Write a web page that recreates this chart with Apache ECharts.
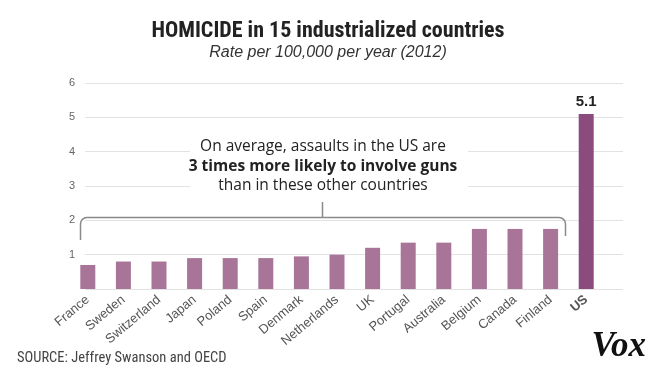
<!DOCTYPE html>
<html>
<head>
<meta charset="utf-8">
<script src="https://cdn.jsdelivr.net/npm/echarts@6/dist/echarts.min.js"></script>
<style>
html,body{margin:0;padding:0;background:#fff;}
#chart{width:656px;height:374px;}
</style>
</head>
<body>
<div id="chart"></div>
<script>
const countries = ["France","Sweden","Switzerland","Japan","Poland","Spain","Denmark","Netherlands","UK","Portugal","Australia","Belgium","Canada","Finland","US"];
const rates = [0.7,0.8,0.8,0.9,0.9,0.9,0.95,1.0,1.2,1.35,1.35,1.75,1.75,1.75,5.1];
const yTicks = [0,1,2,3,4,5,6];
const highlight = "US";

const lightColor = "#a87598";
const darkColor = "#8c4b7d";
const bracketColor = "#8a8a8a";

const chart = echarts.init(document.getElementById('chart'), null, {renderer:'canvas'});
const option = {
  animation:false,
  backgroundColor:'#fff',
  title:[{
    text:'HOMICIDE in 15 industrialized countries',
    left:'center', top:15,
    textStyle:{fontFamily:'"Roboto Condensed","Liberation Sans",sans-serif',fontWeight:'bold',fontSize:22,color:'#222'}
  },{
    text:'Rate per 100,000 per year (2012)',
    left:'center', top:40,
    textStyle:{fontFamily:'"Liberation Sans","Noto Sans",sans-serif',fontStyle:'italic',fontWeight:'normal',fontSize:16,color:'#333'}
  }],
  grid:[
    {left:70,right:52,top:83,bottom:85},
    {left:85,right:33,top:83,bottom:85}
  ],
  xAxis:[{
    type:'category', gridIndex:0, data:countries,
    axisLine:{show:false}, axisTick:{show:false},
    axisLabel:{
      rotate:40, margin:9, interval:0,
      fontFamily:'"Liberation Sans",sans-serif', fontSize:13, color:'#555',
      formatter:function(v){return v===highlight?'{b|'+v+'}':v;},
      rich:{b:{fontWeight:'bold',fontSize:13,color:'#555',fontFamily:'"Liberation Sans",sans-serif'}}
    }
  },{
    type:'value', gridIndex:1, show:false, min:0, max:1
  }],
  yAxis:[{
    type:'value', gridIndex:0, min:yTicks[0], max:yTicks[yTicks.length-1], interval:1, show:false
  },{
    type:'value', gridIndex:1, min:yTicks[0], max:yTicks[yTicks.length-1], interval:1,
    axisLine:{show:false}, axisTick:{show:false},
    axisLabel:{margin:10, fontSize:11, color:'#666', fontFamily:'"Liberation Sans",sans-serif',
      formatter:function(v){return v===0?'':String(v);}},
    splitLine:{lineStyle:{color:'#e2e2e2',width:1}}
  }],
  series:[{
    type:'bar', xAxisIndex:0, yAxisIndex:0,
    barWidth:15,
    data:rates.map((v,i)=>({
      value:v,
      itemStyle:{color:countries[i]===highlight?darkColor:lightColor},
      label:countries[i]===highlight?{show:true,position:'top',distance:5,formatter:'{c}',fontWeight:'bold',fontSize:15,color:'#222',fontFamily:'"Liberation Sans",sans-serif'}:{show:false}
    }))
  }],
  graphic:[
    {type:'rect', z:10, shape:{x:190,y:136,width:278,height:62}, style:{fill:'#fff'}},
    {type:'text', z:11, x:323, y:147, style:{text:'On average, assaults in the US are',fill:'#222',font:'15.5px "Open Sans","Liberation Sans",sans-serif',textAlign:'center',textVerticalAlign:'middle'}},
    {type:'text', z:11, x:323, y:167, style:{text:'3 times more likely to involve guns',fill:'#222',font:'bold 15.5px "Open Sans","Liberation Sans",sans-serif',textAlign:'center',textVerticalAlign:'middle'}},
    {type:'text', z:11, x:323, y:186, style:{text:'than in these other countries',fill:'#222',font:'15.5px "Open Sans","Liberation Sans",sans-serif',textAlign:'center',textVerticalAlign:'middle'}},
    {type:'line', z:12, shape:{x1:80.5,y1:240,x2:80.5,y2:224}, style:{stroke:bracketColor,lineWidth:1.5}},
    {type:'arc', z:12, shape:{cx:87,cy:224,r:6.5,startAngle:Math.PI,endAngle:Math.PI*1.5,clockwise:true}, style:{stroke:bracketColor,lineWidth:1.5,fill:null}},
    {type:'line', z:12, shape:{x1:87,y1:217.5,x2:559,y2:217.5}, style:{stroke:bracketColor,lineWidth:1.5}},
    {type:'arc', z:12, shape:{cx:559,cy:224,r:6.5,startAngle:Math.PI*1.5,endAngle:Math.PI*2,clockwise:true}, style:{stroke:bracketColor,lineWidth:1.5,fill:null}},
    {type:'line', z:12, shape:{x1:565.5,y1:224,x2:565.5,y2:236}, style:{stroke:bracketColor,lineWidth:1.5}},
    {type:'line', z:12, shape:{x1:322.5,y1:202,x2:322.5,y2:217.5}, style:{stroke:bracketColor,lineWidth:1.5}},
    {type:'text', z:11, x:17, y:358, style:{text:'SOURCE: Jeffrey Swanson and OECD',fill:'#444',font:'14.5px "Roboto Condensed","Liberation Sans",sans-serif',textVerticalAlign:'middle'}},
    {type:'text', z:11, x:646, y:347, style:{text:'Vox',fill:'#111',font:'italic bold 35px "Liberation Serif","DejaVu Serif",serif',textAlign:'right',textVerticalAlign:'middle'}}
  ]
};
chart.setOption(option);
</script>
</body>
</html>
